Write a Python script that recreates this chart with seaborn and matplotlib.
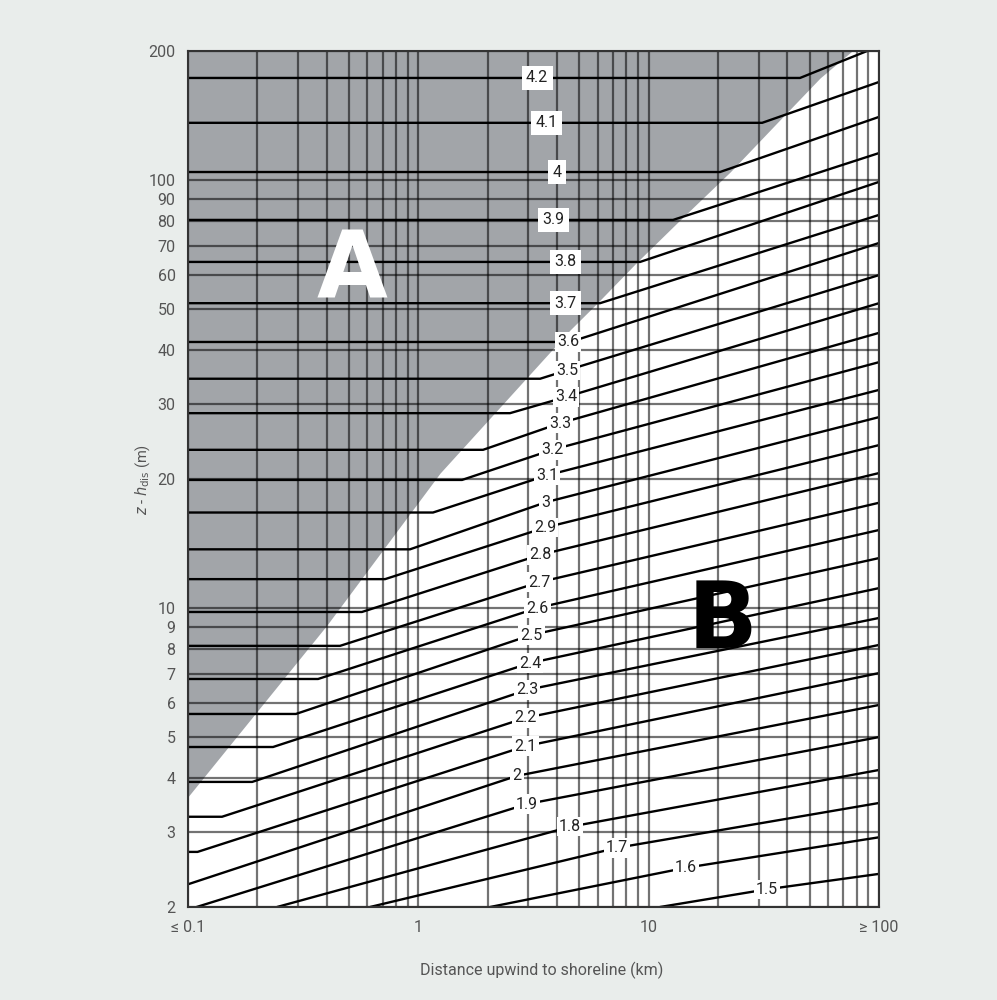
import matplotlib
matplotlib.use("Agg")
import matplotlib.pyplot as plt
import numpy as np
import pandas as pd
import seaborn as sns
from matplotlib.ticker import FixedLocator, FixedFormatter, NullLocator

# contour levels (exposure factor) and their printed labels
levels = [4.2, 4.1, 4.0, 3.9, 3.8, 3.7, 3.6, 3.5, 3.4, 3.3, 3.2, 3.1, 3.0, 2.9,
          2.8, 2.7, 2.6, 2.5, 2.4, 2.3, 2.2, 2.1, 2.0, 1.9, 1.8, 1.7, 1.6, 1.5]
level_text = ["4.2", "4.1", "4", "3.9", "3.8", "3.7", "3.6", "3.5", "3.4", "3.3",
              "3.2", "3.1", "3", "2.9", "2.8", "2.7", "2.6", "2.5", "2.4", "2.3",
              "2.2", "2.1", "2", "1.9", "1.8", "1.7", "1.6", "1.5"]

# where each curve starts (left edge or bottom edge), km / m
start_x = [0.1] * 23 + [0.109, 0.2435, 0.617, 2.05, 11.2]
start_z = [173, 135.9, 104.3, 80.6, 64.3, 51.5, 41.8, 34.3, 28.5, 23.4, 19.9,
           16.7, 13.7, 11.67, 9.78, 8.15, 6.82, 5.65, 4.73, 3.92, 3.25, 2.69,
           2.26, 2, 2, 2, 2, 2]
# end of the flat part (zone A) of each curve
kink_x = [45.4, 31.1, 20.4, 12.76, 9.18, 6.15, 4.56, 3.38, 2.50, 1.91, 1.548,
          1.158, 0.920, 0.717, 0.569, 0.457, 0.367, 0.294, 0.234, 0.190, 0.1405,
          0.11, 0.1, 0.109, 0.2435, 0.617, 2.05, 11.2]
# label positions (on the curves)
label_x = [3.28, 3.59, 4.00, 3.85, 4.34, 4.34, 4.46, 4.42, 4.38, 4.12, 3.81,
           3.62, 3.59, 3.55, 3.38, 3.35, 3.28, 3.09, 3.05, 2.96, 2.91, 2.91,
           2.68, 2.96, 4.56, 7.29, 14.5, 32.7]
label_z = [173, 135.9, 104.3, 80.6, 64.3, 51.5, 41.8, 35.9, 31.1, 27.0, 23.4,
           20.4, 17.66, 15.4, 13.3, 11.48, 9.99, 8.64, 7.43, 6.43, 5.53, 4.75,
           4.05, 3.48, 3.08, 2.75, 2.47, 2.20]
# right-hand end of each curve
end_x = [88.8] + [100] * 27
end_z = [200, 169.3, 140.3, 115.5, 98.9, 82.8, 71.2, 59.9, 51.5, 43.9, 37.5,
         32.3, 27.9, 24.0, 20.65, 17.6, 15.2, 13.07, 11.12, 9.47, 8.19, 7.04,
         5.93, 4.99, 4.18, 3.50, 2.91, 2.39]

# boundary between zone A (grey) and zone B
bound_x = [0.1, 0.4014, 1.243, 4.56, 5.97, 8.91, 13.69, 22.57, 36.1, 55.5, 76.4, 100]
bound_z = [3.62, 9.12, 20.65, 44.6, 51.5, 64.3, 80.6, 104.3, 135.9, 173, 200, 200]

x_major = [0.1, 1, 10, 100]
x_major_text = ["≤ 0.1", "1", "10", "≥ 100"]
x_minor = [0.2, 0.3, 0.4, 0.5, 0.6, 0.7, 0.8, 0.9, 2, 3, 4, 5, 6, 7, 8, 9,
           20, 30, 40, 50, 60, 70, 80, 90]
y_ticks = [2, 3, 4, 5, 6, 7, 8, 9, 10, 20, 30, 40, 50, 60, 70, 80, 90, 100, 200]

rows = []
for i, lev in enumerate(levels):
    pts = [(start_x[i], start_z[i])]
    if kink_x[i] > start_x[i]:
        pts.append((kink_x[i], start_z[i]))
    if label_x[i] > kink_x[i]:
        pts.append((label_x[i], label_z[i]))
    pts.append((end_x[i], end_z[i]))
    for k, (px, pz) in enumerate(pts):
        rows.append({"level": lev, "order": k, "x": px, "z": pz})
curves = pd.DataFrame(rows)

sns.set_style("white")
plt.rcParams["font.family"] = ["Roboto", "DejaVu Sans"]

fig = plt.figure(figsize=(9.97, 10), dpi=100, facecolor="#e9edeb")
ax = fig.add_axes([188 / 997, 1 - 907 / 1000, 691 / 997, 856 / 1000])
ax.set_facecolor("white")

ax.fill_between(bound_x, bound_z, 200, color="#a2a5a9", lw=0, zorder=0.2)

sns.lineplot(data=curves, x="x", y="z", units="level", estimator=None,
             sort=False, color="black", lw=1.7, ax=ax, zorder=2, legend=False)

ax.set_xscale("log")
ax.set_yscale("log")
ax.set_xlim(0.1, 100)
ax.set_ylim(2, 200)

ax.xaxis.set_major_locator(FixedLocator(x_major))
ax.xaxis.set_major_formatter(FixedFormatter(x_major_text))
ax.xaxis.set_minor_locator(FixedLocator(x_minor))
ax.yaxis.set_major_locator(FixedLocator(y_ticks))
ax.yaxis.set_major_formatter(FixedFormatter([str(t) for t in y_ticks]))
ax.yaxis.set_minor_locator(NullLocator())
ax.set_axisbelow(True)
ax.grid(which="both", color="black", alpha=0.55, lw=1.6)
ax.tick_params(which="both", length=0, labelsize=11.5, colors="#555555")
ax.tick_params(axis="x", pad=9)
ax.tick_params(axis="y", pad=9)
ax.set_xlabel("")
ax.set_ylabel("")
for s in ax.spines.values():
    s.set_color("#333333")
    s.set_linewidth(1.5)
    s.set_zorder(4)

for i, txt in enumerate(level_text):
    pad = 3.2 if i < 6 else 1.6
    ax.text(label_x[i], label_z[i], txt, ha="center", va="center", fontsize=11.5,
            color="#222222", zorder=3,
            bbox=dict(facecolor="white", edgecolor="none", pad=pad))

ax.text(0.237, 0.742, "A", transform=ax.transAxes, ha="center", va="center",
        fontsize=66, fontweight="bold", color="white", family="DejaVu Sans", zorder=3)
ax.text(0.773, 0.333, "B", transform=ax.transAxes, ha="center", va="center",
        fontsize=66, fontweight="bold", color="black", family="DejaVu Sans", zorder=3)

fig.text(542 / 997, 1 - 970 / 1000, "Distance upwind to shoreline (km)",
         ha="center", va="center", fontsize=11.5, color="#555555")
fig.text(143 / 997, 1 - 480 / 1000, r"$z$ - $h_{\rm dis}$ (m)", rotation=90,
         ha="center", va="center", fontsize=10.5, color="#555555")

fig.savefig("out.png", dpi=100, facecolor=fig.get_facecolor())
